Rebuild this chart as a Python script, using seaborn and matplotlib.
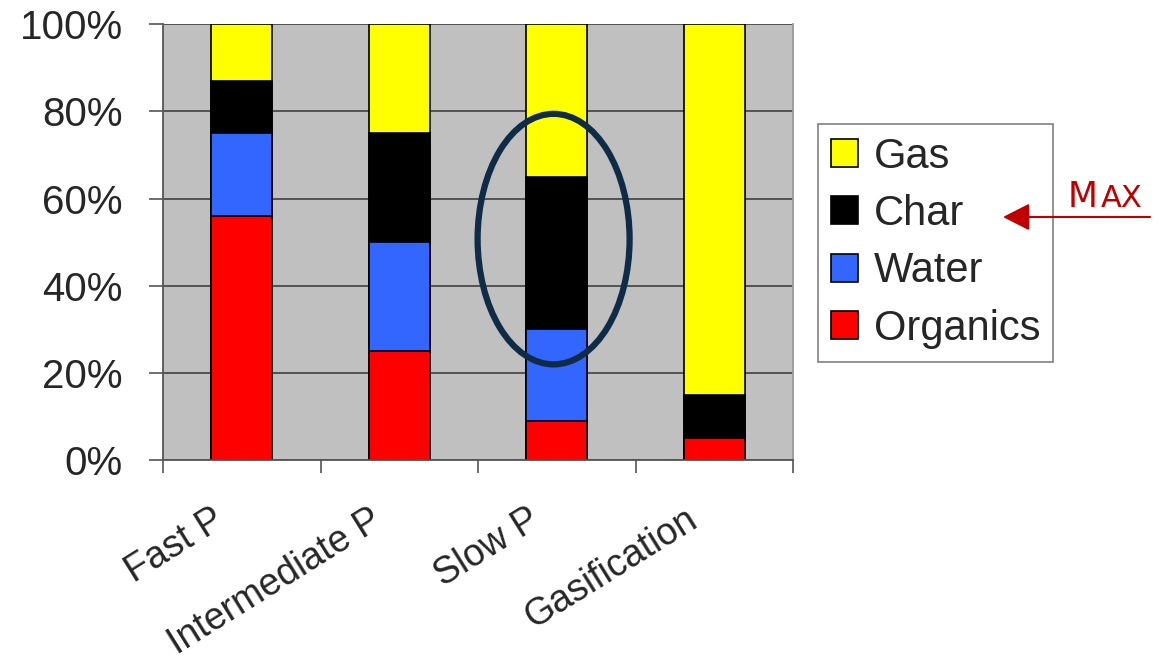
import pandas as pd
import matplotlib.pyplot as plt
import seaborn as sns
from matplotlib.patches import Ellipse, Patch, FancyArrowPatch
from matplotlib.ticker import PercentFormatter, FixedLocator
from matplotlib.transforms import ScaledTranslation

processes = ["Fast P", "Intermediate P", "Slow P", "Gasification"]
organics = [56, 25, 9, 5]
water = [19, 25, 21, 0]
char = [12, 25, 35, 10]
gas = [13, 25, 35, 85]

series = ["Organics", "Water", "Char", "Gas"]
colors = {"Organics": "#FF0000", "Water": "#3366FF", "Char": "#000000", "Gas": "#FFFF00"}

df = pd.DataFrame({"Process": processes, "Organics": organics, "Water": water,
                   "Char": char, "Gas": gas})
# cumulative tops so each layer can be drawn back-to-front
cum = df[series].cumsum(axis=1)
cum["Process"] = df["Process"]

sns.set_theme(style="white")
plt.rcParams["font.family"] = ["Liberation Sans", "DejaVu Sans"]

fig = plt.figure(figsize=(11.71, 6.65), dpi=100)
ax = fig.add_axes([163 / 1171, 1 - 460 / 665, 630 / 1171, 435.7 / 665])

for s in reversed(series):
    sns.barplot(data=cum, x="Process", y=s, order=processes, color=colors[s],
                saturation=1, width=0.39, edgecolor="black", linewidth=1.2,
                errorbar=None, ax=ax)

ax.set_xlim(-0.5, 3.5)
ax.set_ylim(0, 100)
ax.set_xlabel("")
ax.set_ylabel("")
ax.set_facecolor("#C0C0C0")

ax.set_yticks([0, 20, 40, 60, 80, 100])
ax.yaxis.set_major_formatter(PercentFormatter(decimals=0))
ax.yaxis.grid(True, color="#4a4a4a", lw=1.3)
ax.xaxis.grid(False)
ax.set_axisbelow(True)

ax.tick_params(axis="y", length=10, width=1.2, color="#555555", pad=19,
               labelsize=29, left=True, direction="out")
ax.tick_params(axis="x", which="major", length=0, pad=30, labelsize=27)
ax.xaxis.set_minor_locator(FixedLocator([-0.5, 0.5, 1.5, 2.5, 3.5]))
ax.tick_params(axis="x", which="minor", length=9, width=1.2, color="#555555",
               bottom=True, direction="out")

for lbl in ax.get_xticklabels():
    lbl.set_rotation(32)
    lbl.set_ha("right")
    lbl.set_va("top")
    lbl.set_rotation_mode("anchor")
    lbl.set_transform(lbl.get_transform() + ScaledTranslation(-30 / 100, 0, fig.dpi_scale_trans))

for side in ["left", "bottom"]:
    ax.spines[side].set_color("#555555")
    ax.spines[side].set_linewidth(1.3)
ax.spines["top"].set_visible(False)
ax.spines["right"].set_color("#9a9a9a")
ax.spines["right"].set_linewidth(1.3)

# highlight ring round the slow pyrolysis char
ring = Ellipse((1.98, 50.7), width=0.965, height=57.5, fill=False,
               edgecolor="#0F2B45", lw=4.5, zorder=5, clip_on=False)
ax.add_patch(ring)

handles = [Patch(facecolor=colors[s], edgecolor="black", lw=1.2, label=s)
           for s in reversed(series)]
leg = fig.legend(handles=handles, loc="upper left",
                 bbox_to_anchor=(818 / 1171, 1 - 124 / 665), borderaxespad=0,
                 fontsize=30, handlelength=0.65, handleheight=0.65,
                 handletextpad=0.4, labelspacing=0.42, borderpad=0.3,
                 fancybox=False, framealpha=1)
leg.get_frame().set_edgecolor("#808080")
leg.get_frame().set_linewidth(1.2)

arrow = FancyArrowPatch((1150 / 1171, 1 - 217 / 665), (1003 / 1171, 1 - 217 / 665),
                        transform=fig.transFigure,
                        arrowstyle="-|>,head_length=0.55,head_width=0.28",
                        color="#C00000", lw=1.5, mutation_scale=30,
                        shrinkA=0, shrinkB=0, zorder=10)
fig.add_artist(arrow)
fig.text(1068 / 1171, 1 - 207 / 665, "M", color="#C00000", fontsize=25,
         family="DejaVu Sans", ha="left", va="baseline")
fig.text(1101 / 1171, 1 - 207 / 665, "AX", color="#C00000", fontsize=22,
         family="DejaVu Sans", ha="left", va="baseline")

fig.savefig("out.png", dpi=100)
